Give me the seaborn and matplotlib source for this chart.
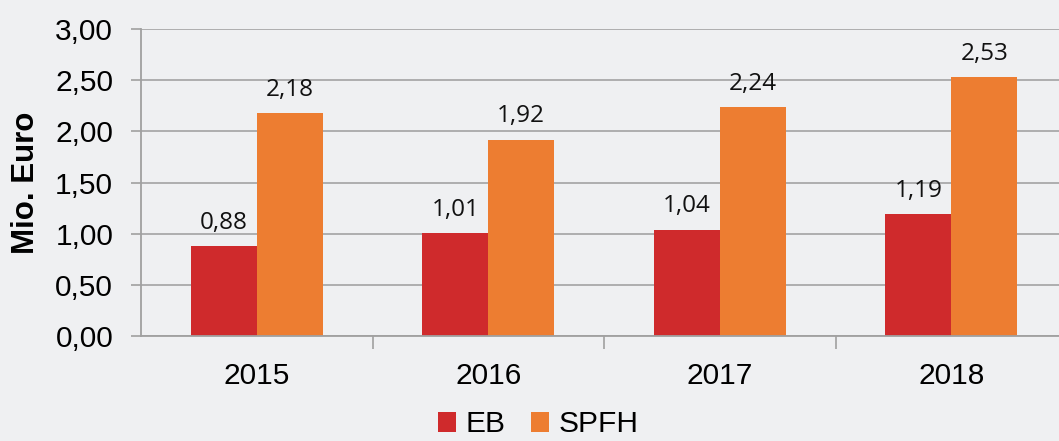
import matplotlib
matplotlib.use("Agg")
import matplotlib.pyplot as plt
import seaborn as sns
import pandas as pd
from matplotlib.ticker import FixedLocator, FuncFormatter
from matplotlib.patches import Patch

years = ["2015", "2016", "2017", "2018"]
eb = [0.88, 1.01, 1.04, 1.19]
spfh = [2.18, 1.92, 2.24, 2.53]
series = ["EB", "SPFH"]
colors = ["#CF2A2C", "#ED7D31"]

df = pd.DataFrame({
    "year": years * 2,
    "value": eb + spfh,
    "series": [series[0]] * len(years) + [series[1]] * len(years),
})

sns.set_theme(style="white")
plt.rcParams["font.family"] = ["Liberation Sans", "DejaVu Sans"]

bg = "#EFF0F2"
fig = plt.figure(figsize=(10.59, 4.41), dpi=100, facecolor=bg)
ax = fig.add_axes([141 / 1059, 105 / 441, 926 / 1059, 307 / 441])
ax.set_facecolor(bg)

sns.barplot(data=df, x="year", y="value", hue="series", palette=colors,
            width=0.57, ax=ax, legend=False, saturation=1, linewidth=0)

ax.set_ylim(0, 3)
ax.set_xlim(-0.5, len(years) - 0.5)
ax.yaxis.set_major_locator(FixedLocator([0, 0.5, 1, 1.5, 2, 2.5, 3]))
ax.yaxis.set_major_formatter(FuncFormatter(lambda v, p: f"{v:.2f}".replace(".", ",")))
ax.grid(axis="y", color="#A9A9A9", linewidth=1.3)
ax.set_axisbelow(True)

for s in ["top", "right"]:
    ax.spines[s].set_visible(False)
for s in ["left", "bottom"]:
    ax.spines[s].set_color("#A0A0A0")
    ax.spines[s].set_linewidth(1.3)

ax.tick_params(axis="y", left=True, length=7, width=1.2, color="#A0A0A0",
               labelsize=21.5, pad=13, labelcolor="black")
ax.tick_params(axis="x", bottom=False, length=0, labelsize=21.5, pad=19, labelcolor="black")
ax.xaxis.set_minor_locator(FixedLocator([0.5, 1.5, 2.5]))
ax.tick_params(axis="x", which="minor", bottom=True, length=9, width=1.2, color="#A0A0A0")

ax.set_xlabel("")
ax.set_ylabel("Mio. Euro", fontsize=22.5, fontweight="bold", labelpad=10, color="black")

for cont in ax.containers:
    ax.bar_label(cont, labels=[f"{v:.2f}".replace(".", ",") for v in cont.datavalues],
                 padding=8, fontsize=17.5, family=["Open Sans", "DejaVu Sans"], color="#111111")

handles = [Patch(facecolor=c, edgecolor="none") for c in colors]
fig.legend(handles, series, loc="lower center", bbox_to_anchor=(0.508, -0.055), ncol=2,
           frameon=False, fontsize=21.5, handlelength=0.62, handleheight=0.62,
           handletextpad=0.3, columnspacing=0.85, labelcolor="black")

fig.savefig("out.png", dpi=100, facecolor=bg)
